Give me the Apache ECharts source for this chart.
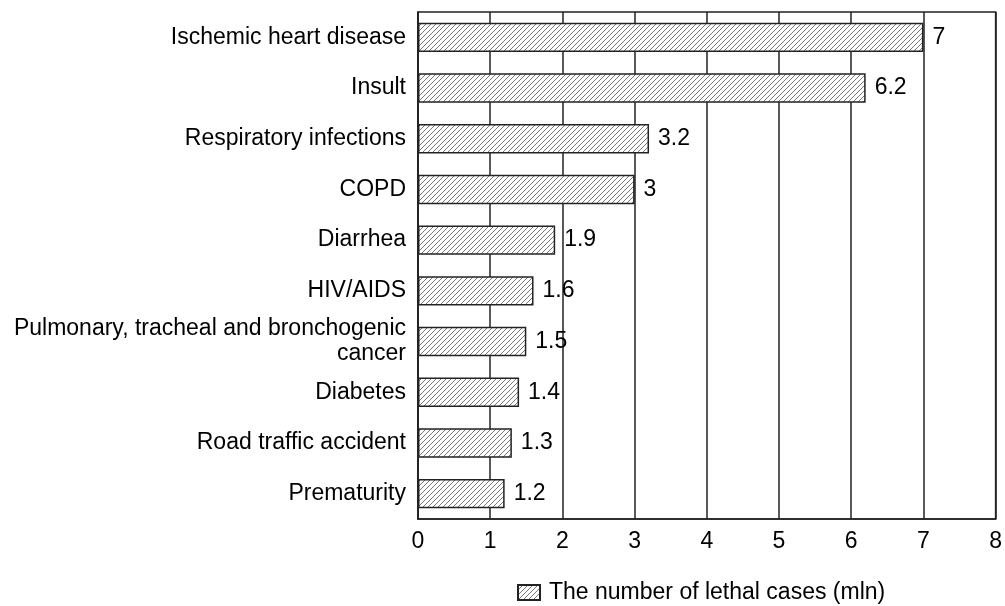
<!DOCTYPE html>
<html><head><meta charset="utf-8">
<script src="https://cdn.jsdelivr.net/npm/echarts@6/dist/echarts.min.js"></script>
<style>html,body{margin:0;padding:0;background:#fff}#c{width:1005px;height:606px}</style>
</head><body><div id="c"></div>
<script>
const categories = ["Ischemic heart disease","Insult","Respiratory infections","COPD","Diarrhea","HIV/AIDS","Pulmonary, tracheal and bronchogenic\ncancer","Diabetes","Road traffic accident","Prematurity"];
const values = [7, 6.2, 3.2, 3, 1.9, 1.6, 1.5, 1.4, 1.3, 1.2];
const seriesName = "The number of lethal cases (mln)";

function hatch(){
  const s = 5, c = document.createElement('canvas');
  c.width = s; c.height = s;
  const g = c.getContext('2d');
  g.fillStyle = '#fff'; g.fillRect(0,0,s,s);
  g.strokeStyle = '#555'; g.lineWidth = 0.8;
  g.beginPath();
  g.moveTo(0,s); g.lineTo(s,0);
  g.moveTo(-1,1); g.lineTo(1,-1);
  g.moveTo(s-1,s+1); g.lineTo(s+1,s-1);
  g.stroke();
  return c;
}
const pat = {image: hatch(), repeat: 'repeat'};
const font = 'Liberation Sans, Arial, sans-serif';
const chart = echarts.init(document.getElementById('c'));
chart.setOption({
  animation:false,
  textStyle:{fontFamily:font,color:'#000'},
  grid:{left:418,right:5,top:12,bottom:87,show:true,borderColor:'#222',borderWidth:1.5,containLabel:false},
  xAxis:{type:'value',min:0,max:8,interval:1,
    axisLine:{show:true,lineStyle:{color:'#222',width:1.5}},axisTick:{show:false},
    axisLabel:{fontSize:23,color:'#000',margin:11,fontFamily:font},
    splitLine:{show:true,lineStyle:{color:'#222',width:1.5}}},
  yAxis:{type:'category',data:categories,inverse:true,
    axisLine:{show:true,lineStyle:{color:'#222',width:1.5}},axisTick:{show:false},
    axisLabel:{fontSize:23,color:'#000',margin:12,fontFamily:font,lineHeight:25,align:'right'}},
  legend:{bottom:-3,left:512,icon:'rect',itemWidth:22,itemHeight:15,itemGap:10,
    textStyle:{fontSize:23,color:'#000',fontFamily:font,padding:[0,0,0,4]},data:[seriesName]},
  series:[{type:'bar',name:seriesName,data:values,barCategoryGap:'42%',
    itemStyle:{color:pat,borderColor:'#222',borderWidth:1.5},
    label:{show:true,position:'right',distance:9,fontSize:23,color:'#000',fontFamily:font}}]
});
</script></body></html>
